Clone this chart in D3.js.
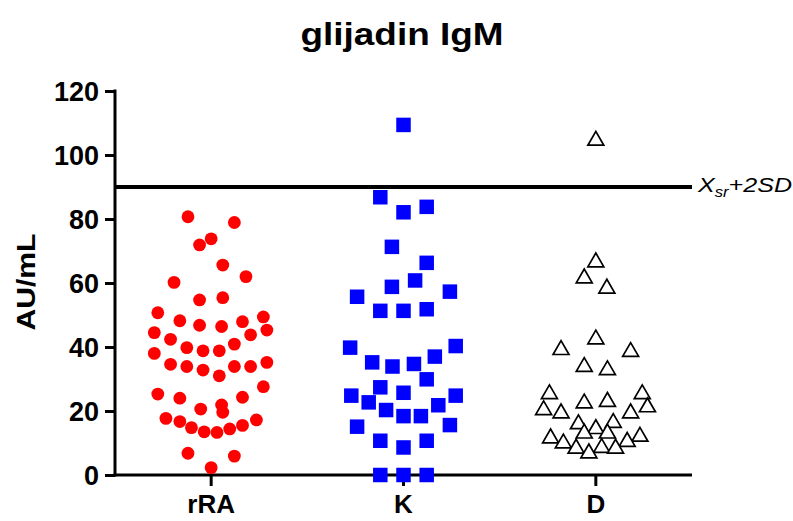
<!DOCTYPE html>
<html>
<head>
<meta charset="utf-8">
<script src="https://cdn.jsdelivr.net/npm/d3@7"></script>
<style>
body { margin: 0; background: #fff; }
text { font-family: "Liberation Sans", Arial, sans-serif; }
</style>
</head>
<body>
<div id="chart"></div>
<script>
// values (AU/mL); jitter = horizontal spread in marker half-widths
const categories = ["rRA", "K", "D"]
const yTicks = [0, 20, 40, 60, 80, 100, 120]
const cutoff = 90

const rraValues = [80.7, 78.9, 73.8, 71.9, 65.6, 62, 60.2, 54.7, 55.4, 50.7, 49.4, 48.2, 47.9, 46.8, 46.4, 45.3, 44.5, 43.8, 42.4, 40.9, 39.8, 38.8, 38.8, 38, 35.2, 34.6, 33.9, 33.9, 33.9, 32.8, 31, 27.6, 25.3, 24, 24.3, 21.9, 20.6, 19.6, 17.7, 17.2, 16.7, 15.5, 14.8, 14.4, 13.5, 13.3, 6.8, 5.9, 2.3]
const rraJitter = [-2, 2, 0, -1, 1, 3, -3.2, -1, 1, -4.6, 4.5, -2.7, 2.7, -1, 0.9, 4.8, -4.9, 3.4, -3.5, 2, -2.1, -0.7, 0.7, -4.9, 4.8, -3.5, -2.1, 2, 3.4, -0.7, 0.7, 4.5, -4.6, -2.7, 2.7, 0.9, -0.9, 1, -3.9, 3.9, -2.7, 2.7, -1.7, 1.6, -0.6, 0.5, -2, 2, 0]

const kValues = [109.4, 86.8, 82.1, 83.8, 71.3, 66.3, 60.8, 58.8, 55.7, 57.3, 51.3, 51.3, 51.8, 39.8, 40.3, 35.2, 37, 33.9, 34.7, 29.9, 27.4, 24.8, 24.8, 25.7, 22.7, 21.8, 20.3, 18.4, 18.4, 15.1, 15.6, 10.7, 10.7, 8.6, 0, 0, 0]
const kJitter = [0, -2, 0, 2, -1, 2, 1, -1, -4, 4, -2, 0, 2, -4.6, 4.5, -2.7, 2.7, -0.95, 0.9, 2, -2, -4.5, 4.5, 0, -3, 3, -1.5, 0, 1.5, -4, 4, -2, 2, 0, -2, 0, 2]

const dValues = [104.5, 66.5, 61.5, 58.3, 42.4, 39.1, 38.5, 33.8, 32.8, 25.3, 25.3, 22.4, 22.9, 20.3, 19.3, 19.3, 21.2, 15.9, 16.3, 14.4, 13, 13, 11.5, 12, 9.9, 10.4, 8.3, 8.5, 8.3, 6.8]
const dJitter = [0, 0, -1, 0.95, 0, -3, 3, -1, 1, -4, 4, -1, 1, -4.5, -3, 3, 4.45, -1.5, 1.5, 0, -1, 1, -3.9, 3.8, -2.8, 2.7, -1.7, 0.5, 1.7, -0.6]

const groups = [
	{ name: "rRA", values: rraValues, jitter: rraJitter },
	{ name: "K", values: kValues, jitter: kJitter },
	{ name: "D", values: dValues, jitter: dJitter }
]

const W = 793, H = 521
const mLeft = 115, mRight = 692, mTop = 91, mBottom = 475

const svg = d3.select("#chart")
	.append("svg")
	.attr("width", W)
	.attr("height", H)

const x = d3.scaleBand().domain(categories).range([mLeft, mRight]).padding(0)
const y = d3.scaleLinear().domain([0, 120]).range([mBottom, mTop])
const jx = d3.scaleLinear().domain([-1, 1]).range([-11.6, 11.6])

// title
svg.append("text")
	.attr("x", 402)
	.attr("y", 45)
	.attr("text-anchor", "middle")
	.attr("font-size", 32)
	.attr("font-weight", "bold")
	.attr("textLength", 203)
	.attr("lengthAdjust", "spacingAndGlyphs")
	.text("glijadin IgM")

// y axis
const yAxis = svg.append("g")
	.attr("transform", `translate(${mLeft},0)`)
	.call(d3.axisLeft(y).tickValues(yTicks).tickSize(10).tickPadding(6))
yAxis.select(".domain").attr("stroke-width", 3).attr("d", `M0,${mTop - 1.5}V${mBottom + 1.5}`)
yAxis.selectAll(".tick line").attr("stroke-width", 3)
yAxis.selectAll(".tick text")
	.attr("font-size", 27)
	.attr("font-weight", "bold")
	.attr("fill", "#000")
	.attr("dy", "0.36em")
	.attr("font-family", "Liberation Sans, Arial, sans-serif")

// x axis
const xAxis = svg.append("g")
	.attr("transform", `translate(0,${mBottom})`)
	.call(d3.axisBottom(x).tickSize(11).tickPadding(9))
xAxis.select(".domain").attr("stroke-width", 3).attr("d", `M${mLeft - 1.5},0H${mRight}`)
xAxis.selectAll(".tick line").attr("stroke-width", 3)
xAxis.selectAll(".tick text")
	.attr("font-size", 26)
	.attr("font-weight", "bold")
	.attr("fill", "#000")
	.attr("font-family", "Liberation Sans, Arial, sans-serif")

// y label
svg.append("text")
	.attr("transform", `translate(35,282) rotate(-90)`)
	.attr("text-anchor", "middle")
	.attr("font-size", 26)
	.attr("font-weight", "bold")
	.attr("textLength", 97)
	.attr("lengthAdjust", "spacingAndGlyphs")
	.text("AU/mL")

// cutoff line
svg.append("line")
	.attr("x1", mLeft)
	.attr("x2", mRight)
	.attr("y1", y(cutoff))
	.attr("y2", y(cutoff))
	.attr("stroke", "#000")
	.attr("stroke-width", 4)

const lab = svg.append("text")
	.attr("x", 698)
	.attr("y", 192)
	.attr("font-size", 21)
	.attr("font-style", "italic")
	.attr("textLength", 94)
	.attr("lengthAdjust", "spacingAndGlyphs")
lab.append("tspan").text("X")
lab.append("tspan").attr("font-size", 14).attr("dy", 5).text("sr")
lab.append("tspan").attr("dy", -5).text("+2SD")

function pts(g) {
	return g.values.map((v, i) => ({ v: v, j: g.jitter[i], cx: x(g.name) + x.bandwidth() / 2 }))
}

// rRA circles
svg.append("g")
	.selectAll("circle")
	.data(pts(groups[0]))
	.enter()
	.append("circle")
	.attr("cx", (d) => d.cx + jx(d.j))
	.attr("cy", (d) => y(d.v))
	.attr("r", 6.4)
	.attr("fill", "#ff0000")

// K squares
const sq = 14.5
svg.append("g")
	.selectAll("rect")
	.data(pts(groups[1]))
	.enter()
	.append("rect")
	.attr("x", (d) => d.cx + jx(d.j) - sq / 2)
	.attr("y", (d) => y(d.v) - sq / 2)
	.attr("width", sq)
	.attr("height", sq)
	.attr("fill", "#0000ff")

// D triangles
const tri = d3.symbol().type(d3.symbolTriangle).size(110)
svg.append("g")
	.selectAll("path")
	.data(pts(groups[2]))
	.enter()
	.append("path")
	.attr("d", tri)
	.attr("transform", (d) => `translate(${d.cx + jx(d.j)},${y(d.v)})`)
	.attr("fill", "#fff")
	.attr("stroke", "#000")
	.attr("stroke-width", 1.7)
</script>
</body>
</html>
